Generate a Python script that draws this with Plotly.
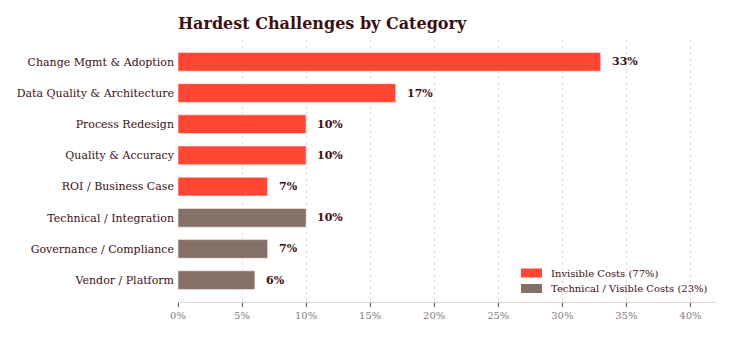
import plotly.graph_objects as go

categories = ["Change Mgmt & Adoption", "Data Quality & Architecture", "Process Redesign",
              "Quality & Accuracy", "ROI / Business Case", "Technical / Integration",
              "Governance / Compliance", "Vendor / Platform"]
values = [33, 17, 10, 10, 7, 10, 7, 6]
groups = ["Invisible", "Invisible", "Invisible", "Invisible", "Invisible",
          "Technical", "Technical", "Technical"]
group_order = ["Invisible", "Technical"]
group_names = {"Invisible": "Invisible Costs (77%)", "Technical": "Technical / Visible Costs (23%)"}
group_colors = {"Invisible": "#FF4733", "Technical": "#857068"}
x_ticks = [0, 5, 10, 15, 20, 25, 30, 35, 40]

FONT = "DejaVu Serif"
DARK = "#3d0f12"
W, H = 743, 351
L, R, T, B = 178, 27, 40, 49
PW, PH = W - L - R, H - T - B


def px_x(px):
    return (px - L) / PW


def px_y(py):
    return (H - B - py) / PH


fig = go.Figure()
for g in group_order:
    ys = [c for c, gg in zip(categories, groups) if gg == g]
    xs = [v for v, gg in zip(values, groups) if gg == g]
    fig.add_trace(go.Bar(
        y=ys, x=xs, orientation="h", name=group_names[g],
        marker=dict(color=group_colors[g], line=dict(color="rgba(255,255,255,0.5)", width=1)),
        width=0.6, hoverinfo="x+y", showlegend=False,
    ))

for c, v in zip(categories, values):
    fig.add_annotation(x=v, y=c, text=f"<b>{v}%</b>", showarrow=False,
                       xanchor="left", xshift=9, yshift=0,
                       font=dict(family=FONT, size=11, color=DARK))

# manual legend with wide swatches
for i, g in enumerate(group_order):
    cy = 273 + i * 15.5
    fig.add_shape(type="rect", xref="paper", yref="paper",
                  x0=px_x(521), x1=px_x(542), y0=px_y(cy + 4.5), y1=px_y(cy - 4.5),
                  fillcolor=group_colors[g], line=dict(width=0))
    fig.add_annotation(xref="paper", yref="paper", x=px_x(549), y=px_y(cy),
                       text=group_names[g], showarrow=False, xanchor="left", yanchor="middle",
                       font=dict(family=FONT, size=10, color=DARK))

fig.update_layout(
    width=W, height=H,
    margin=dict(l=L, r=R, t=T, b=B),
    paper_bgcolor="white", plot_bgcolor="white",
    title=dict(text="<b>Hardest Challenges by Category</b>", x=L / W, xanchor="left",
               y=1 - 23 / H, yanchor="middle",
               font=dict(family=FONT, size=16, color=DARK)),
    barmode="overlay",
    showlegend=False,
    font=dict(family=FONT),
)
fig.update_yaxes(categoryorder="array", categoryarray=categories,
                 range=[7.7, -0.7], autorange=False, automargin=False,
                 showgrid=False, showline=False, ticks="",
                 tickfont=dict(family=FONT, size=11, color=DARK), ticklabelstandoff=3)
fig.update_xaxes(range=[0, 42], tickvals=x_ticks, ticktext=[f"{t}%" for t in x_ticks],
                 automargin=False,
                 showgrid=True, gridcolor="#e4e0e0", griddash="dot", gridwidth=1,
                 showline=True, linecolor="#dcd6d6", linewidth=1,
                 ticks="outside", ticklen=4, tickcolor="#5a4848",
                 tickfont=dict(family=FONT, size=10, color="#8a7b7b"), zeroline=False)

fig.write_html("out.html")
